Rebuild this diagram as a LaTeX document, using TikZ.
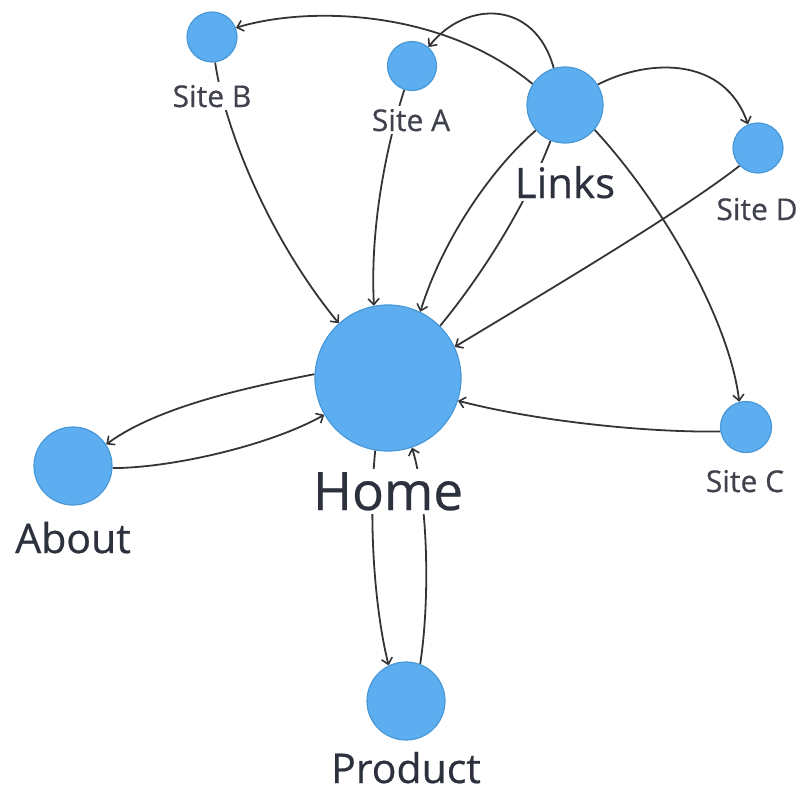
\documentclass[tikz,border=0pt]{standalone}
\usepackage{fontspec}
\setmainfont{Open Sans}[FakeBold=0.5]
\usetikzlibrary{arrows.meta}
\pgfdeclarelayer{edges}
\pgfsetlayers{edges,main}
\definecolor{nodefill}{RGB}{92,174,240}
\definecolor{nodeline}{RGB}{72,152,215}
\definecolor{edgecol}{RGB}{52,52,56}
\definecolor{txtcol}{RGB}{45,49,62}
\definecolor{sitetxt}{RGB}{64,67,78}
\begin{document}
\begin{tikzpicture}[x=1pt,y=-1pt,
  dot/.style={circle,fill=nodefill,draw=nodeline,line width=1.2pt,inner sep=0pt},
  link/.style={draw=edgecol,line width=1.8pt,-{Straight Barb[length=6pt,width=11pt,line width=1.6pt]}},
  plain/.style={draw=edgecol,line width=1.8pt},
  lbl/.style={anchor=base,fill=white,inner sep=3pt,text=txtcol},
  slbl/.style={anchor=base,fill=white,inner sep=3pt,text=sitetxt,font=\fontsize{30}{34}\selectfont}]
\useasboundingbox (0,0) rectangle (805,792);
% nodes
\node[dot,minimum size=146pt] (home) at (388,378) {};
\node[dot,minimum size=76pt] (links) at (565,105) {};
\node[dot,minimum size=50pt] (siteB) at (212,37) {};
\node[dot,minimum size=49pt] (siteA) at (412,66) {};
\node[dot,minimum size=50pt] (siteD) at (758,148) {};
\node[dot,minimum size=51pt] (siteC) at (746,427) {};
\node[dot,minimum size=78pt] (about) at (73,466) {};
\node[dot,minimum size=78pt] (product) at (406,701) {};
% edges (behind the circles)
\begin{pgfonlayer}{edges}
\path[link] (links.147) .. controls +(-91,-75) and +(72,-22) .. (siteB.21);
\path[link] (links.107) .. controls +(-19,-69) and +(37,-47) .. (siteA.49);
\path[link] (links.32) .. controls +(53,-27) and +(-23,-67) .. (siteD.113);
\path[link] (links.-40) .. controls +(66,71) and +(-10,-83) .. (siteC.105);
\path[link] (links.221) .. controls +(-46,40) and +(22,-71) .. (home.64);
\path[plain] (home.45) .. controls +(50,-61) and +(-21,55) .. (links.248);
\path[link] (siteB.277) .. controls +(10,68) and +(-69,-84) .. (home.132);
\path[link] (siteA.252) .. controls +(-19,60) and +(-4,-76) .. (home.101);
\path[link] (siteD.224) .. controls +(-60,47) and +(86,-52) .. (home.25);
\path[link] (siteC.190) .. controls +(-81,1) and +(73,19) .. (home.-18);
\path[link] (home.177) .. controls +(-55,11) and +(54,-40) .. (about.33);
\path[link] (about.-3) .. controls +(58,0) and +(-55,31) .. (home.210);
\path[link] (home.260) .. controls +(-7,70) and +(-14,-56) .. (product.116);
\path[link] (product.69) .. controls +(10,-65) and +(16,53) .. (home.289);
\end{pgfonlayer}
% labels
\node[lbl,font=\fontsize{53}{60}\selectfont] (homeL) at (388,510) {Home};
\node[lbl,font=\fontsize{42}{48}\selectfont] (linksL) at (565,198) {Links};
\node[lbl,font=\fontsize{41}{47}\selectfont] (aboutL) at (73,553) {About};
\node[lbl,font=\fontsize{41}{47}\selectfont] (productL) at (406,783) {Product};
\node[slbl] (siteBL) at (212,107) {Site B};
\node[slbl] (siteAL) at (411,131) {Site A};
\node[slbl] (siteDL) at (757,220) {Site D};
\node[slbl] (siteCL) at (745,492) {Site C};
\end{tikzpicture}
\end{document}
